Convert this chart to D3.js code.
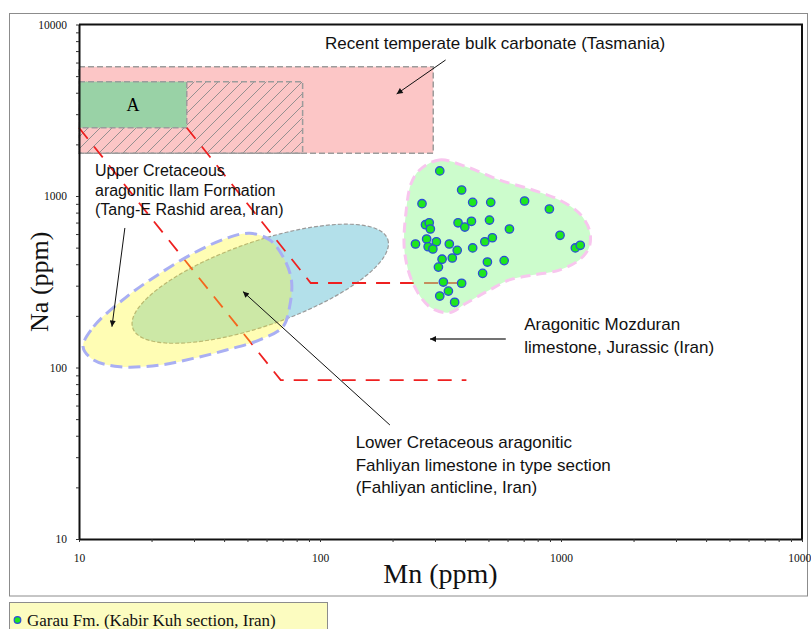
<!DOCTYPE html>
<html>
<head>
<meta charset="utf-8">
<script src="https://cdn.jsdelivr.net/npm/d3@7"></script>
<style>
  html, body { margin: 0; padding: 0; background: #fff; }
  svg { display: block; }
</style>
</head>
<body>
<svg id="chart" width="811" height="629"></svg>
<script>
// Garau Fm. samples (Kabir Kuh section): Mn and Na in ppm
const garauMn = [314, 387, 265, 430, 511, 706, 895, 274, 284, 287, 374, 399, 425, 505, 611,
                 249, 277, 304, 281, 294, 344, 371, 430, 483, 519, 991, 1147, 1202, 321, 354,
                 310, 495, 581, 473, 325, 387, 341, 314, 362];
const garauNa = [1400, 1084, 902, 918, 918, 935, 840, 680, 698, 642, 698, 659, 712, 724, 642,
                 525, 561, 541, 506, 491, 525, 482, 498, 541, 571, 590, 498, 516, 428, 435,
                 385, 412, 420, 354, 315, 310, 279, 261, 240];

// Field of recent temperate bulk carbonate (Tasmania)
const tasmaniaMn = [10, 295];
const tasmaniaNa = [1775, 5675];
// Hatched sub-field
const hatchMn = [10, 84.7];
const hatchNa = [1775, 4640];
// Field A
const fieldAMn = [10, 28];
const fieldANa = [2500, 4640];

// Lower Cretaceous Fahliyan field: centre, end of long axis, end of short axis
const fahliyanMn = [56.5, 191, 64.4];
const fahliyanNa = [308, 559, 180.8];

// Upper Cretaceous Ilam field outline
const ilamMn = [10.4, 11.5, 15.8, 21.7, 29.8, 40.9, 51.1, 61.9, 70.2, 76.1, 74.8, 70.2, 56.2,
                40.9, 29.8, 21.7, 14.8, 11.5];
const ilamNa = [132, 173, 259, 354, 463, 567, 606, 554, 443, 324, 226, 173, 145,
                126.5, 113, 103.4, 101.1, 110.6];

// Jurassic Mozduran field outline
const mozduranMn = [259, 313, 404, 555, 763, 984, 1191, 1311, 1311, 1191, 984, 763, 611, 505,
                    404, 344, 285, 243, 224, 228, 239];
const mozduranNa = [1418, 1622, 1483, 1240, 1084, 948, 793, 634, 506, 424, 370, 346, 324, 283,
                    237, 209, 226, 310, 484, 828, 1186];

// Dashed diagenetic trends (from field A)
const trendOuterMn = [10, 68.7, 405];
const trendOuterNa = [2500, 84.5, 84.5];
const trendInnerMn = [28, 91.5, 405];
const trendInnerNa = [2500, 311, 311];

// Axis ticks
const decadeTicks = [10, 100, 1000, 10000];
const tickLabels = ["10", "100", "1000", "10000"];

// Annotation arrows: [tailMn, tailNa, headMn, headNa]
const arrows = [
  [332, 6209, 208, 3934],
  [15.5, 651, 13.7, 173],
  [195, 46.2, 47.9, 277],
  [590, 146.6, 286, 146.6]
];

// Annotation texts: anchor Mn, Na of first line
const notes = [
  { mn: 105, na: 7150, size: 17, gap: 0, lines: ["Recent temperate bulk carbonate (Tasmania)"] },
  { mn: 11.65, na: 1308, size: 16, gap: 19.5, lines: ["Upper Cretaceous", "aragonitic Ilam Formation", "(Tang-E Rashid area, Iran)"] },
  { mn: 704, na: 165.5, size: 17, gap: 23, lines: ["Aragonitic Mozduran", "limestone, Jurassic (Iran)"] },
  { mn: 140.6, na: 33.8, size: 17, gap: 22.5, lines: ["Lower Cretaceous aragonitic", "Fahliyan limestone in type section", "(Fahliyan anticline, Iran)"] }
];

const svg = d3.select("#chart");
const x = d3.scaleLog().domain([10, 10000]).range([79, 802]);
const y = d3.scaleLog().domain([10, 10000]).range([539, 24.5]);

// outer frame
svg.append("rect").attr("x", 9.5).attr("y", 13.5).attr("width", 798).attr("height", 582.5)
  .attr("fill", "#fff").attr("stroke", "#8c8c8c").attr("stroke-width", 1);

const defs = svg.append("defs");
const pat = defs.append("pattern").attr("id", "hatch").attr("patternUnits", "userSpaceOnUse")
  .attr("width", 12).attr("height", 12);
pat.append("path").attr("d", "M-3,3 L3,-3 M0,12 L12,0 M9,15 L15,9")
  .attr("stroke", "#8a8a8a").attr("stroke-width", 0.9).attr("fill", "none");

defs.append("marker").attr("id", "head").attr("viewBox", "0 0 10 10")
  .attr("refX", 10).attr("refY", 5).attr("markerWidth", 9).attr("markerHeight", 6)
  .attr("markerUnits", "userSpaceOnUse").attr("orient", "auto")
  .append("path").attr("d", "M0,0 L10,5 L0,10 z").attr("fill", "#111");

const plot = svg.append("g");

function boxRect(mn, na) {
  return { x: x(mn[0]), y: y(na[1]), w: x(mn[1]) - x(mn[0]), h: y(na[0]) - y(na[1]) };
}

// Tasmania field
const tb = boxRect(tasmaniaMn, tasmaniaNa);
plot.append("rect").attr("x", tb.x).attr("y", tb.y).attr("width", tb.w).attr("height", tb.h)
  .attr("fill", "#fcc6c6").attr("stroke", "#9c9c9c").attr("stroke-width", 1.5)
  .attr("stroke-dasharray", "6,3");
// hatched sub-field
const hb = boxRect(hatchMn, hatchNa);
plot.append("rect").attr("x", hb.x).attr("y", hb.y).attr("width", hb.w).attr("height", hb.h)
  .attr("fill", "url(#hatch)").attr("stroke", "#9c9c9c").attr("stroke-width", 1.5)
  .attr("stroke-dasharray", "6,3");
// field A
const ab = boxRect(fieldAMn, fieldANa);
plot.append("rect").attr("x", ab.x).attr("y", ab.y).attr("width", ab.w).attr("height", ab.h)
  .attr("fill", "#99d2a6").attr("stroke", "#9c9c9c").attr("stroke-width", 1.5)
  .attr("stroke-dasharray", "6,3");
plot.append("text").attr("x", ab.x + ab.w / 2).attr("y", ab.y + ab.h / 2 + 6)
  .attr("text-anchor", "middle").attr("font-family", "Liberation Serif, Times New Roman, serif")
  .attr("font-size", 18).text("A");

// Fahliyan ellipse
{
  const cx = x(fahliyanMn[0]), cy = y(fahliyanNa[0]);
  const ax = x(fahliyanMn[1]) - cx, ay = y(fahliyanNa[1]) - cy;
  const bx = x(fahliyanMn[2]) - cx, by = y(fahliyanNa[2]) - cy;
  const pts = d3.range(0, 360, 3).map(d => {
    const t = d * Math.PI / 180;
    return [cx + Math.cos(t) * ax + Math.sin(t) * bx, cy + Math.cos(t) * ay + Math.sin(t) * by];
  });
  plot.append("path").attr("d", d3.line().curve(d3.curveLinearClosed)(pts))
    .attr("fill", "#b3e0ea").attr("stroke", "#9a9a9a").attr("stroke-width", 1.2)
    .attr("stroke-dasharray", "4,2");
}

// dashed trends
const lineGen = d3.line();
[[trendOuterMn, trendOuterNa], [trendInnerMn, trendInnerNa]].forEach(([mn, na]) => {
  plot.append("path").attr("d", lineGen(mn.map((m, i) => [x(m), y(na[i])])))
    .attr("fill", "none").attr("stroke", "#ee2020").attr("stroke-width", 1.8)
    .attr("stroke-dasharray", "14,10");
});

// Ilam field
const smooth = d3.line().curve(d3.curveCatmullRomClosed.alpha(0.5));
plot.append("path").attr("d", smooth(ilamMn.map((m, i) => [x(m), y(ilamNa[i])])))
  .attr("fill", "rgb(255,249,28)").attr("fill-opacity", 0.33)
  .attr("stroke", "#a9aff3").attr("stroke-width", 3).attr("stroke-dasharray", "12,6");

// Mozduran field
plot.append("path").attr("d", smooth(mozduranMn.map((m, i) => [x(m), y(mozduranNa[i])])))
  .attr("fill", "rgb(153,249,153)").attr("fill-opacity", 0.5)
  .attr("stroke", "#f8c6ee").attr("stroke-width", 3).attr("stroke-dasharray", "10,6");

// Garau samples
plot.selectAll("circle.s").data(garauMn.map((m, i) => [m, garauNa[i]])).join("circle")
  .attr("class", "s").attr("cx", d => x(d[0])).attr("cy", d => y(d[1])).attr("r", 4.2)
  .attr("fill", "#1ee61e").attr("stroke", "#2b4fd6").attr("stroke-width", 1.3);

// axes
const allTicks = [];
[10, 100, 1000].forEach(p => { for (let k = 1; k < 10; k++) allTicks.push(p * k); });
allTicks.push(10000);
const fmt = d => { const i = decadeTicks.indexOf(d); return i >= 0 ? tickLabels[i] : ""; };

const gx = svg.append("g").attr("transform", "translate(0,539)")
  .call(d3.axisBottom(x).tickValues(allTicks).tickFormat(fmt).tickSizeInner(3).tickSizeOuter(0).tickPadding(12));
const gy = svg.append("g").attr("transform", "translate(79,0)")
  .call(d3.axisLeft(y).tickValues(allTicks).tickFormat(fmt).tickSizeInner(3).tickSizeOuter(0).tickPadding(9));
[gx, gy].forEach(g => {
  g.select(".domain").attr("stroke", "#111").attr("stroke-width", 2);
  g.selectAll(".tick line").attr("stroke", "#333").attr("stroke-width", 1);
  g.selectAll(".tick text").attr("font-family", "Liberation Serif, Times New Roman, serif")
    .attr("font-size", 11.5).attr("fill", "#111");
});
svg.append("path").attr("d", `M${x(10)},${y(10000)} H${x(10000)} V${y(10)}`)
  .attr("fill", "none").attr("stroke", "#111").attr("stroke-width", 2);

// axis titles
svg.append("text").attr("x", (x(10) + x(10000)) / 2).attr("y", 583)
  .attr("text-anchor", "middle").attr("font-family", "Liberation Serif, Times New Roman, serif")
  .attr("font-size", 28).attr("fill", "#111").text("Mn (ppm)");
svg.append("text").attr("transform", `translate(48,${(y(10) + y(10000)) / 2}) rotate(-90)`)
  .attr("text-anchor", "middle").attr("font-family", "Liberation Serif, Times New Roman, serif")
  .attr("font-size", 26).attr("fill", "#111").text("Na (ppm)");

// annotation arrows
arrows.forEach((a, i) => {
  svg.append("line").attr("x1", x(a[0])).attr("y1", y(a[1])).attr("x2", x(a[2])).attr("y2", y(a[3]))
    .attr("stroke", i === 3 ? "#444" : "#111").attr("stroke-width", i === 3 ? 1.6 : 1)
    .attr("marker-end", "url(#head)");
});

// annotation texts
notes.forEach(n => {
  const t = svg.append("text").attr("font-family", "Liberation Sans, Arial, sans-serif")
    .attr("font-size", n.size).attr("fill", "#111");
  n.lines.forEach((l, i) => {
    t.append("tspan").attr("x", x(n.mn)).attr("y", y(n.na) + i * n.gap).text(l);
  });
});

// legend
const lg = svg.append("g");
lg.append("rect").attr("x", 9.5).attr("y", 602.5).attr("width", 318).attr("height", 30)
  .attr("fill", "#fcfcc0").attr("stroke", "#8c8c8c").attr("stroke-width", 1);
lg.append("circle").attr("cx", 17.5).attr("cy", 620).attr("r", 3.3)
  .attr("fill", "#1ee61e").attr("stroke", "#2b4fd6").attr("stroke-width", 1.2);
lg.append("text").attr("x", 27).attr("y", 626).attr("font-family", "Liberation Serif, Times New Roman, serif")
  .attr("font-size", 17).attr("fill", "#111").text("Garau Fm. (Kabir Kuh section, Iran)");
</script>
</body>
</html>
